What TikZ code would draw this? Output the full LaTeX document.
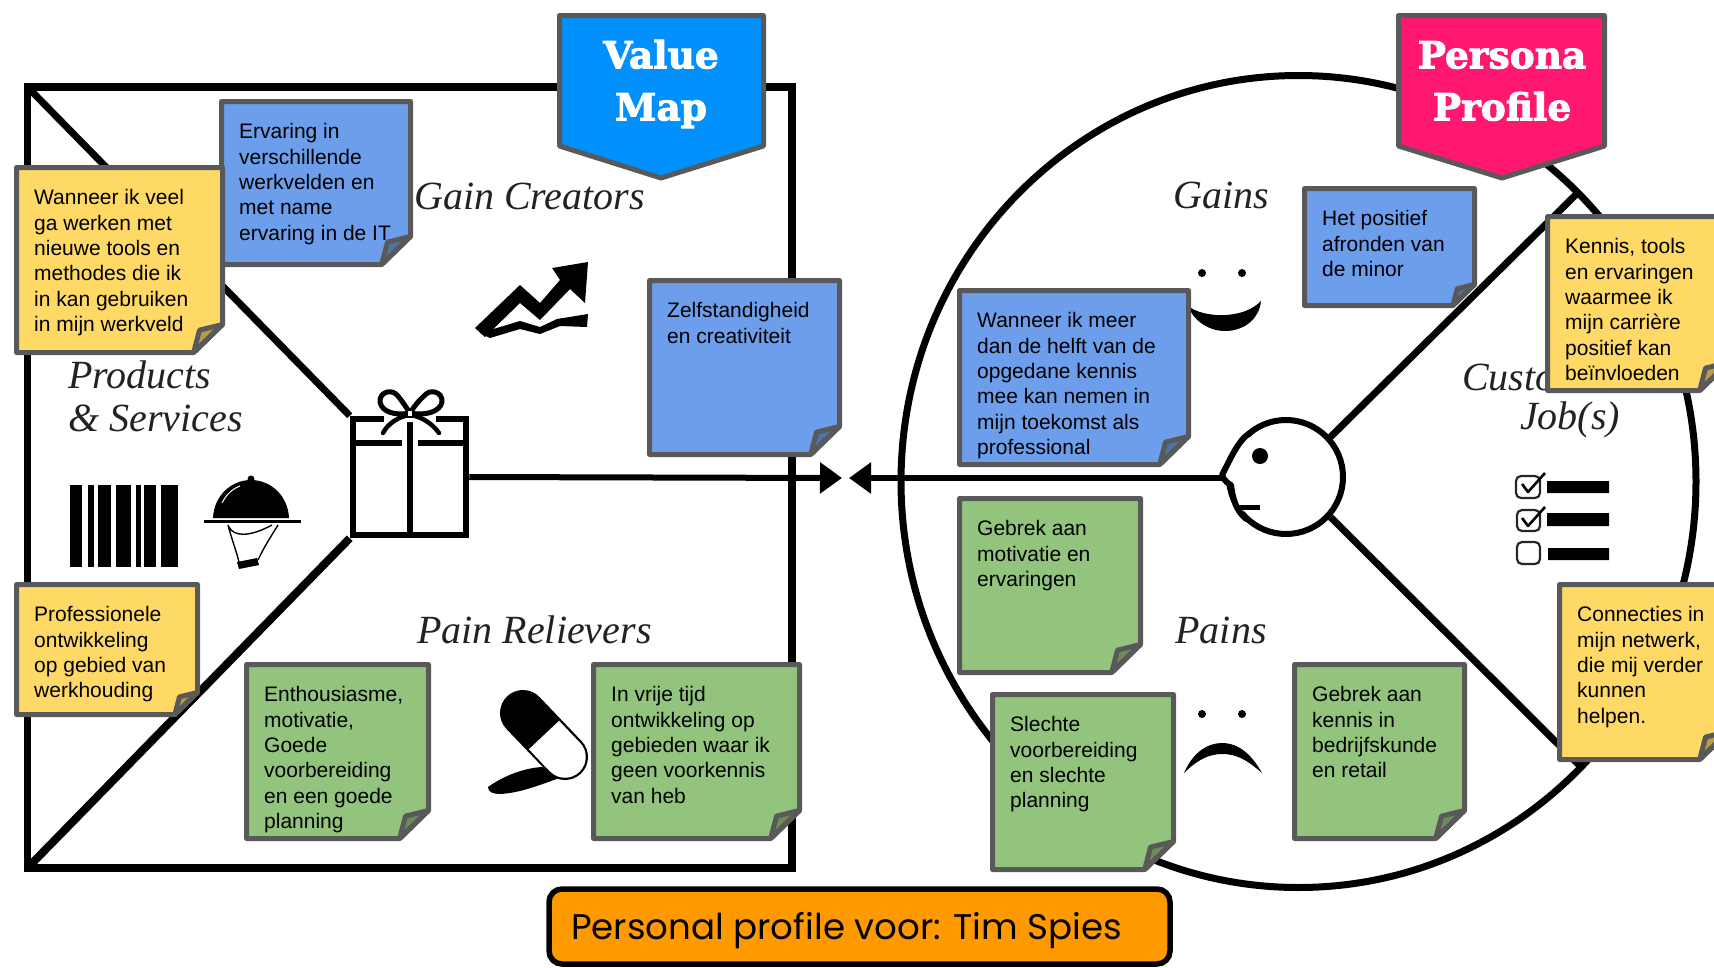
\documentclass[tikz,border=0pt]{standalone}
\usepackage{fontspec}
\usetikzlibrary{arrows.meta}
\newfontfamily\stickyfont{Liberation Sans}
\newfontfamily\labelfont{Liberation Serif}
\newfontfamily\titlefont{DejaVu Serif}[BoldFeatures={FakeBold=2.5}]
\newfontfamily\footfont{Poppins}
\definecolor{edgegrey}{HTML}{595959}
\definecolor{notebluec}{HTML}{6D9EEB}
\definecolor{noteyellowc}{HTML}{FFD966}
\definecolor{notegreenc}{HTML}{93C47D}
\definecolor{mapblue}{HTML}{0091FF}
\definecolor{profilepink}{HTML}{FF1770}
\definecolor{footorange}{HTML}{FF9900}
\definecolor{inkgrey}{HTML}{222222}
\tikzset{
  frameline/.style={line width=7.5pt,black},
  noteedge/.style={line width=5pt,draw=edgegrey,line join=round},
  notetext/.style={anchor=north west,inner sep=0pt,align=left,text=black,
     font=\stickyfont\fontsize{21}{25.3}\selectfont},
  italiclabel/.style={inner sep=0pt,text=inkgrey,align=center,
     font=\labelfont\itshape\fontsize{40}{43}\selectfont},
  bannertext/.style={inner sep=0pt,text=white,align=center,
     font=\titlefont\bfseries\fontsize{37.5}{52}\selectfont},
  checkbox/.style={draw=black!85,line width=2.2pt,rounded corners=5pt},
  checkmark/.style={draw=black,line width=2.6pt,line join=round},
}
% [fold]{name}{x0}{y0}{x1}{y1}{colour}{text}
\newcommand{\sticky}[8][28]{%
  \fill[#7] (#3+2.5,#4+2.5) -- (#5-2.5,#4+2.5) -- (#5-2.5,#6-2.5-#1)
     -- (#5-2.5-1.03*#1,#6-2.5) -- (#3+2.5,#6-2.5) -- cycle;
  \draw[noteedge,fill=#7!72!black] (#5-2.5,#6-2.5-#1) -- (#5-2.5-0.82*#1,#6-2.5-0.8*#1)
     -- (#5-2.5-1.03*#1,#6-2.5) -- cycle;
  \draw[noteedge] (#3+2.5,#4+2.5) -- (#5-2.5,#4+2.5) -- (#5-2.5,#6-2.5-#1)
     -- (#5-2.5-1.03*#1,#6-2.5) -- (#3+2.5,#6-2.5) -- cycle;
  \node[notetext] (#2) at (#3+20,#4+22) {\strut#8};
}
\begin{document}
\begin{tikzpicture}[x=1pt,y=-1pt]
\useasboundingbox (0,0) rectangle (1714,967);
\clip (0,0) rectangle (1714,967);

% ---------- Value map frame
\coordinate (sqTL) at (27.5,87);
\coordinate (sqBL) at (27.5,868);
\draw[frameline] (sqTL) rectangle (792,868);

% gift
\node[draw=black,line width=6.5pt,minimum width=113pt,minimum height=116pt,inner sep=0pt] (gift) at (409.5,477) {};
\draw[frameline,line width=7pt] (sqTL) -- (gift.north west);
\draw[frameline,line width=8pt] (sqBL) -- (gift.south west);
\draw[line width=6pt] (353,443) -- (466,443);
\draw[white,line width=6pt] (402,443) -- (418,443);
\draw[line width=5.5pt] (410,420) -- (410,535);
\fill[white] (378,434) .. controls (392,418) and (428,418) .. (442,434) -- (442,416) -- (378,416) -- cycle;
\draw[line width=6.5pt] (350,419) -- (384,419) (436,419) -- (469,419);
\draw[line width=4.5pt,line cap=round] (383,433) .. controls (388,423) and (400,416) .. (410,415)
   .. controls (420,416) and (432,423) .. (439,433);
\draw[line width=5pt,line join=round] (410,413) .. controls (395,416) and (382,412) .. (380,402)
   .. controls (379,392) and (392,388) .. (398,396) .. controls (402,401) and (406,407) .. (410,413)
   .. controls (414,407) and (418,401) .. (424,396) .. controls (430,388) and (443,392) .. (442,402)
   .. controls (440,412) and (425,416) .. (410,413);
\fill[white] (407,410) rectangle (413,417);
\draw[line width=1.5pt] (407,410) rectangle (413,417);

% barcode
\foreach \xa/\xb in {70/82,88/94,98/111,116/131,136/141,144/156,161/178}
  \fill[black] (\xa,485) rectangle (\xb,567);
% cloche
\fill[black] (213,518) .. controls (214,495) and (232,480) .. (251,480)
   .. controls (270,480) and (288,495) .. (289,518) -- cycle;
\fill[black] (251,479) circle (3.5);
\draw[white,line width=1pt] (222,503) .. controls (226,495) and (232,489) .. (240,486);
\draw[line width=2.5pt] (204,521.5) -- (301,521.5);
\draw[line width=1.4pt,line join=round] (228,525) .. controls (232,540) and (236,550) .. (239,562)
   (258,560) .. controls (265,545) and (272,535) .. (278,525)
   (229,527) .. controls (234,537) and (250,537) .. (272,525);
\fill[black] (237,562) -- (257,558) -- (259,565) -- (239,569) -- cycle;

% chart arrow
\fill[black] (475,328) -- (520,285) -- (540,303) -- (560,280) -- (552,268) -- (588,262)
   -- (585,303) -- (570,289) -- (540,320) -- (520,303) -- (485,337) -- cycle;
\fill[black] (480,333) -- (500,327) -- (520,321) -- (540,327) -- (557,319) -- (588,314)
   -- (587,327) -- (560,326) -- (540,334) -- (520,329) -- (490,338) -- cycle;

% pill
\coordinate (pillA) at (523,713);
\coordinate (pillB) at (565,757);
\coordinate (pillM) at (544,735);
\coordinate (pillN) at (560,752);
\fill[black] (488,787) .. controls (505,775) and (525,768) .. (542,767)
   -- (562,777) .. controls (540,785) and (520,793) .. (500,794) .. controls (493,794) and (488,792) .. (488,787) -- cycle;
\draw[black,line width=46pt,line cap=round] (pillA) -- (pillB);
\draw[white,line width=41.5pt,line cap=round] (pillN) -- (pillB);
\draw[white,line width=41.5pt] (pillM) -- (pillN);

% ---------- Persona circle
\draw[line width=7pt] (1298.5,481.5) ellipse [x radius=397.5,y radius=406];
\node[draw=black,fill=white,circle,line width=6pt,minimum size=114pt,inner sep=0pt] (face) at (1286,477) {};
\coordinate (rimTop) at (1578,192.5);
\coordinate (rimBot) at (1581,767);
\draw[line width=7pt] (face.42) -- (rimTop);
\draw[line width=7pt] (face.-42) -- (rimBot);
\fill[white] (1250,433) .. controls (1238,440) and (1230,460) .. (1222,478) -- (1230,485) -- (1232,497) -- (1243,517) -- cycle;
\draw[line width=6pt,line join=round,line cap=round] (1250,433) .. controls (1238,440) and (1230,460) .. (1222,475)
   .. controls (1224,481) and (1229,484) .. (1231,485) .. controls (1233,500) and (1236,510) .. (1246,519);
\draw[line width=5pt] (1239,507) -- (1260,507);
\fill[black] (1260,456) circle (8);

% arrows
\coordinate (tipL) at (842,478);
\coordinate (tipR) at (849,478);
\draw[line width=6pt,-{Triangle[length=22pt,width=30pt]}] (gift.east) -- (tipL);
\draw[line width=6pt,-{Triangle[length=22pt,width=30pt]}] (1222,478) -- (tipR);

% smile & frown
\fill[black] (1202,273) circle (4) (1242,273) circle (4) (1202,714) circle (4) (1242,714) circle (4);
\fill[black] (1188,306) .. controls (1203,318) and (1243,320) .. (1261,301)
   .. controls (1259,320) and (1243,331) .. (1225,331) .. controls (1208,331) and (1193,320) .. (1188,306) -- cycle;
\fill[black] (1184,773) .. controls (1193,752) and (1208,743) .. (1222,743)
   .. controls (1239,743) and (1252,755) .. (1262,773)
   .. controls (1247,760) and (1237,754) .. (1222,754) .. controls (1207,754) and (1195,762) .. (1184,773) -- cycle;

% checklist
\draw[checkbox] (1516,476) rectangle (1540,498);
\draw[checkbox] (1517,510) rectangle (1540,531);
\draw[checkbox] (1517,542) rectangle (1540,564);
\draw[checkmark] (1522,484) -- (1528,492) -- (1545,473);
\draw[checkmark] (1522,518) -- (1528,526) -- (1545,507);
\fill[black] (1547,481) rectangle (1609,493) (1547,513) rectangle (1609,526) (1548,548) rectangle (1609,560);

% ---------- italic labels
\node[italiclabel,anchor=west] (gaincr) at (414,196) {Gain Creators};
\node[italiclabel,anchor=west,align=left] (prodserv) at (68,396.5) {Products\\\&\ Services};
\node[italiclabel,anchor=west] (painrel) at (417,630) {Pain Relievers};
\node[italiclabel] (gainslbl) at (1221,195) {Gains};
\node[italiclabel] (painslbl) at (1221,630) {Pains};
\node[italiclabel,anchor=west] (custlbl) at (1462,377) {Customer};
\node[italiclabel] (joblbl) at (1570,420) {Job(s)};

% ---------- stickies
\sticky{n2}{219}{99}{413}{267}{notebluec}{Ervaring in\\verschillende\\werkvelden en\\met name\\ervaring in de IT}
\sticky{n1}{14}{165}{225}{355}{noteyellowc}{Wanneer ik veel\\ga werken met\\nieuwe tools en\\methodes die ik\\in kan gebruiken\\in mijn werkveld}
\sticky{n3}{647}{278}{842}{457}{notebluec}{Zelfstandigheid\\en creativiteit}
\sticky[22]{n4}{14}{582}{200}{717}{noteyellowc}{Professionele\\ontwikkeling\\op gebied van\\werkhouding}
\sticky{n5}{244}{662}{431}{841}{notegreenc}{Enthousiasme,\\motivatie,\\Goede\\voorbereiding\\en een goede\\planning}
\sticky{n6}{591}{662}{802}{841}{notegreenc}{In vrije tijd\\ontwikkeling op\\gebieden waar ik\\geen voorkennis\\van heb}
\sticky[21]{n7}{1302}{186}{1477}{308}{notebluec}{Het positief\\afronden van\\de minor}
\sticky{n8}{957}{288}{1191}{467}{notebluec}{Wanneer ik meer\\dan de helft van de\\opgedane kennis\\mee kan nemen in\\mijn toekomst als\\professional}
\sticky{n9}{1545}{214}{1731}{393}{noteyellowc}{Kennis, tools\\en ervaringen\\waarmee ik\\mijn carrière\\positief kan\\beïnvloeden}
\sticky{n10}{957}{496}{1143}{675}{notegreenc}{Gebrek aan\\motivatie en\\ervaringen}
\sticky{n11}{990}{692}{1176}{872}{notegreenc}{Slechte\\voorbereiding\\en slechte\\planning}
\sticky{n12}{1292}{662}{1467}{841}{notegreenc}{Gebrek aan\\kennis in\\bedrijfskunde\\en retail}
\sticky{n13}{1557}{582}{1731}{762}{noteyellowc}{Connecties in\\mijn netwerk,\\die mij verder\\kunnen\\helpen.}

% ---------- banners
\draw[line width=5pt,draw=edgegrey,fill=mapblue,line join=round] (559.5,15.5) -- (763.5,15.5) -- (763.5,146) -- (661,178) -- (559.5,146) -- cycle;
\node[bannertext] (valuemap) at (661,84) {Value\\Map};
\draw[line width=5pt,draw=edgegrey,fill=profilepink,line join=round] (1398.5,15.5) -- (1604.5,15.5) -- (1604.5,146) -- (1502,178) -- (1398.5,146) -- cycle;
\node[bannertext] (personaprof) at (1502,81) {Persona\\Profile};

% ---------- footer
\node[draw=black,fill=footorange,line width=5.5pt,rounded corners=13pt,minimum width=621pt,minimum height=75pt,inner sep=0pt] (footer) at (859.5,926.5) {};
\node[anchor=west,inner sep=0pt,text=black,font=\footfont\fontsize{35.6}{36}\selectfont] (footertext) at (571,931) {Personal profile voor: Tim Spies};
\end{tikzpicture}
\end{document}
